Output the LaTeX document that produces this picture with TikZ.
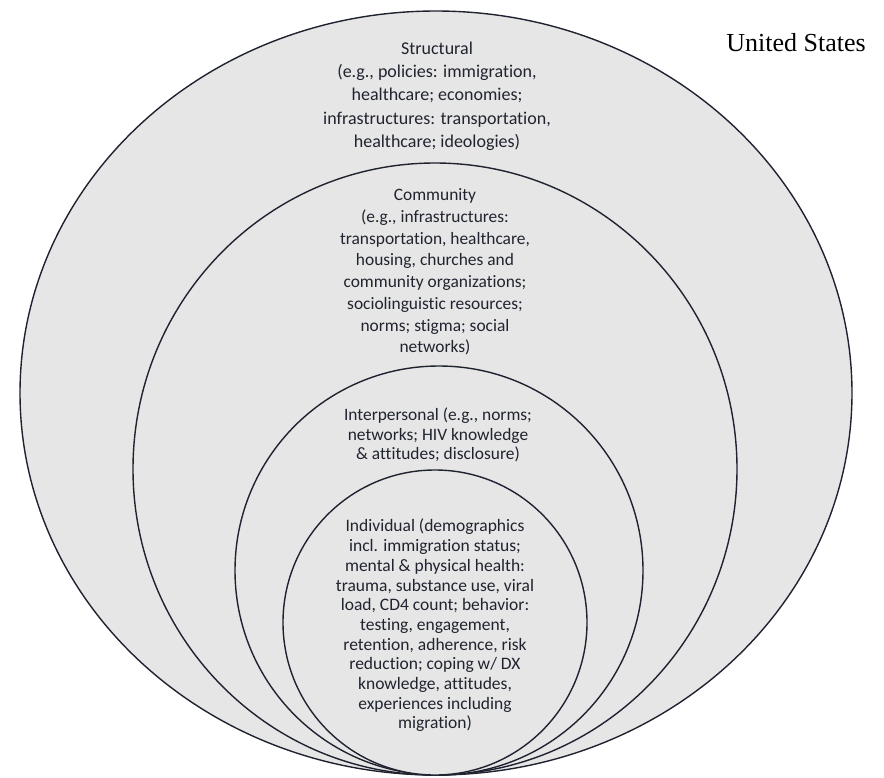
\documentclass[tikz,border=0pt]{standalone}
\usepackage{fontspec}
\setmainfont[Ligatures=NoCommon]{Carlito}
\newfontfamily\usfont{Liberation Serif}
\definecolor{ringline}{HTML}{1F2330}
\definecolor{ringfill}{HTML}{E6E6E6}
\definecolor{ringtext}{HTML}{20242F}
\begin{document}
\begin{tikzpicture}[x=1pt,y=-1pt,
  ring/.style={draw=ringline,fill=ringfill,line width=1.4pt},
  lbl/.style={align=center,inner sep=0pt,text=ringtext}]
\useasboundingbox (0,0) rectangle (884,777);
\fill[white] (0,0) rectangle (884,777);
\draw[ring] (436,393) ellipse [x radius=416pt, y radius=382pt];
\draw[ring] (435,469) ellipse [x radius=302pt, y radius=306pt];
\draw[ring] (439,570.5) ellipse [x radius=204pt, y radius=204.5pt];
\draw[ring] (435,622.5) ellipse [x radius=152pt, y radius=152.5pt];
\node[lbl,font=\fontsize{18}{23.3}\selectfont] (structural) at (437,96)
  {Structural\\(e.g., policies: immigration,\\healthcare; economies;\\infrastructures: transportation,\\healthcare; ideologies)};
\node[lbl,font=\fontsize{17.4}{21.7}\selectfont] (community) at (435,272)
  {Community\\(e.g., infrastructures:\\transportation, healthcare,\\housing, churches and\\community organizations;\\sociolinguistic resources;\\norms; stigma; social\\networks)};
\node[lbl,font=\fontsize{17.4}{19.7}\selectfont] (interpersonal) at (438,435)
  {Interpersonal (e.g., norms;\\networks; HIV knowledge\\\& attitudes; disclosure)};
\node[lbl,font=\fontsize{17.5}{19.7}\selectfont] (individual) at (435,625.5)
  {Individual (demographics\\incl. immigration status;\\mental \& physical health:\\trauma, substance use, viral\\load, CD4 count; behavior:\\testing, engagement,\\retention, adherence, risk\\reduction; coping w/ DX\\knowledge, attitudes,\\experiences including\\migration)};
\node[anchor=base east,inner sep=0pt,font=\usfont\fontsize{26}{30}\selectfont,text=black] (us) at (866,51) {United States};
\end{tikzpicture}
\end{document}
